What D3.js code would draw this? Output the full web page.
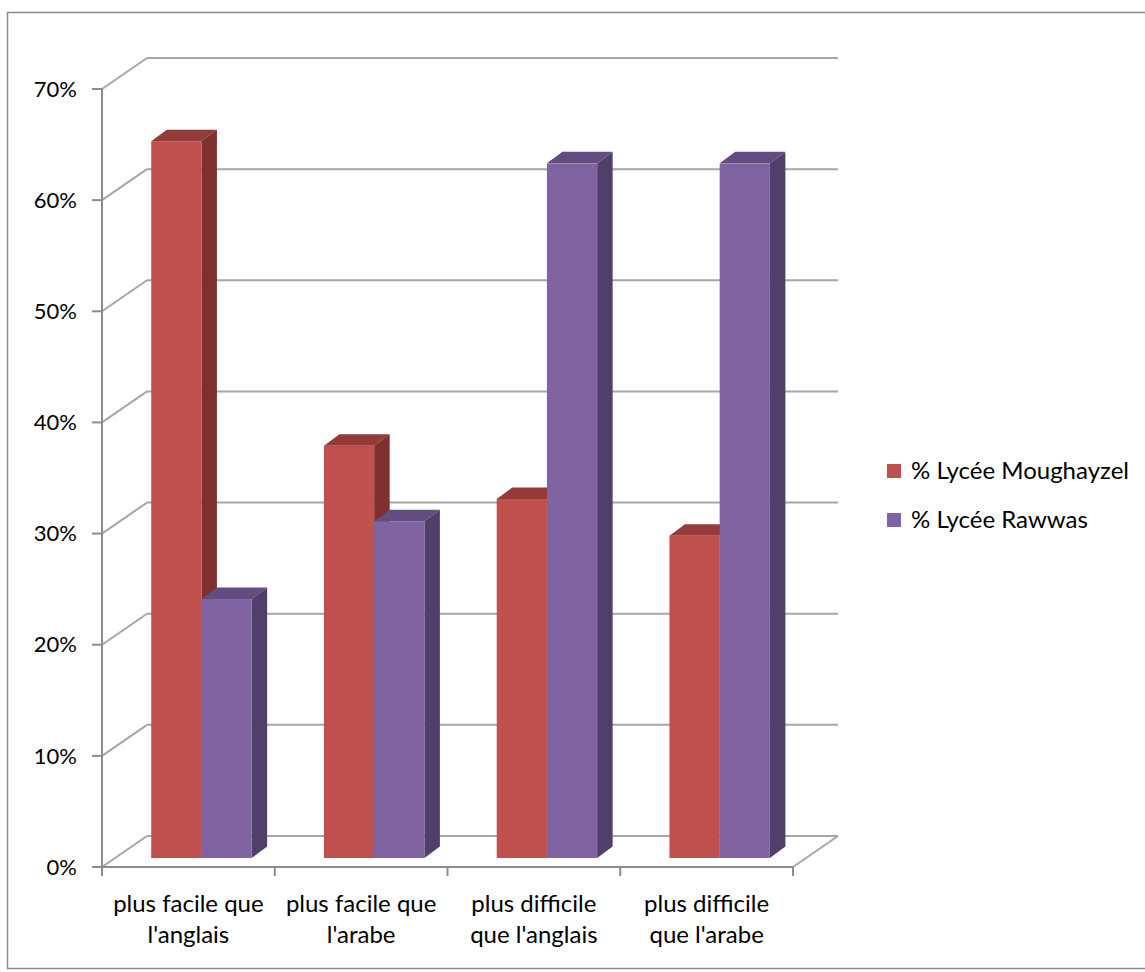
<!DOCTYPE html>
<html>
<head>
<meta charset="utf-8">
<script src="https://cdn.jsdelivr.net/npm/d3@7"></script>
<style>
  html, body { margin: 0; padding: 0; background: #fff; }
  svg { display: block; }
  text { font-family: Lato, "Liberation Sans", sans-serif; fill: #000; }
</style>
</head>
<body>
<svg id="chart" width="1145" height="972"></svg>
<script>
// Survey data: share of students per answer, per school
const categories = [
  ["plus facile que", "l'anglais"],
  ["plus facile que", "l'arabe"],
  ["plus difficile", "que l'anglais"],
  ["plus difficile", "que l'arabe"]
];
const seriesNames = ["% Lycée Moughayzel", "% Lycée Rawwas"];
const moughayzel = [0.645, 0.371, 0.323, 0.290];
const rawwas = [0.233, 0.303, 0.625, 0.625];
const yTicks = [0, 0.1, 0.2, 0.3, 0.4, 0.5, 0.6, 0.7];

const svg = d3.select("#chart");

// Chart frame
svg.append("rect")
  .attr("x", 7.5).attr("y", 12.5)
  .attr("width", 1150).attr("height", 956)
  .attr("fill", "none").attr("stroke", "#8c8c8c").attr("stroke-width", 1.5);

// 3D geometry: front plane and depth offset of the back wall
const left = 102, right = 793;
const depth = { dx: 45, dy: -31 };
const y = d3.scaleLinear().domain([0, 0.7]).range([867, 89]);
const catIds = categories.map((d, i) => i);
const x = d3.scaleBand().domain(catIds).range([left, right]);
const inner = d3.scaleBand().domain([0, 1]).range([0, x.bandwidth()]).paddingOuter(0.72).paddingInner(0);

const grid = svg.append("g").attr("stroke", "#a6a6a6").attr("stroke-width", 2).attr("fill", "none");

// back wall gridlines and side-wall diagonals
yTicks.forEach(t => {
  const yy = y(t);
  grid.append("line")
    .attr("x1", left + depth.dx).attr("y1", yy + depth.dy)
    .attr("x2", right + depth.dx).attr("y2", yy + depth.dy);
  grid.append("line")
    .attr("x1", left).attr("y1", yy)
    .attr("x2", left + depth.dx).attr("y2", yy + depth.dy);
});
// floor right edge
grid.append("line")
  .attr("x1", right).attr("y1", y(0))
  .attr("x2", right + depth.dx).attr("y2", y(0) + depth.dy);

// Axes on the front plane
const axisG = svg.append("g").attr("stroke", "#8c8c8c").attr("stroke-width", 2);
axisG.append("line").attr("x1", left).attr("y1", y(0.7)).attr("x2", left).attr("y2", y(0));
axisG.append("line").attr("x1", left).attr("y1", y(0)).attr("x2", right).attr("y2", y(0));
yTicks.forEach(t => {
  axisG.append("line").attr("x1", left - 10).attr("y1", y(t)).attr("x2", left).attr("y2", y(t));
});
catIds.concat([categories.length]).forEach(i => {
  const xx = i < categories.length ? x(i) : right;
  axisG.append("line").attr("x1", xx).attr("y1", y(0)).attr("x2", xx).attr("y2", y(0) + 9);
});

// Y tick labels
svg.append("g").selectAll("text").data(yTicks).join("text")
  .attr("x", 77).attr("y", d => y(d)).attr("dy", "0.35em")
  .attr("text-anchor", "end").attr("font-size", 22)
  .text(d => d3.format(".0%")(d));

// Category labels
const catLabels = svg.append("g").selectAll("text").data(categories).join("text")
  .attr("text-anchor", "middle").attr("font-size", 24)
  .attr("transform", (d, i) => `translate(${x(i) + x.bandwidth() / 2},0)`);
catLabels.selectAll("tspan").data(d => d).join("tspan")
  .attr("x", 0).attr("y", (d, j) => 912 + j * 31)
  .text(d => d);

// Bars: front face sits part-way into the depth
const barDepth = 0.29;
const off = { dx: depth.dx * barDepth, dy: depth.dy * barDepth };
const side = { dx: 15.5, dy: -11.5 };
const colors = [
  { front: "#c0504d", top: "#943a37", side: "#7f2f2d" },
  { front: "#8064a2", top: "#634d80", side: "#513f6b" }
];
const seriesData = [moughayzel, rawwas];

const bars = svg.append("g");
catIds.forEach(i => {
  seriesData.forEach((vals, s) => {
    const v = vals[i];
    const x0 = x(i) + inner(s) + off.dx;
    const x1 = x0 + inner.bandwidth();
    const yb = y(0) + off.dy;
    const yt = y(v) + off.dy;
    const c = colors[s];
    const g = bars.append("g");
    // top face
    g.append("path")
      .attr("d", `M${x0},${yt}L${x0 + side.dx},${yt + side.dy}L${x1 + side.dx},${yt + side.dy}L${x1},${yt}Z`)
      .attr("fill", c.top);
    // right side face
    g.append("path")
      .attr("d", `M${x1},${yt}L${x1 + side.dx},${yt + side.dy}L${x1 + side.dx},${yb + side.dy}L${x1},${yb}Z`)
      .attr("fill", c.side);
    // front face
    g.append("rect")
      .attr("x", x0).attr("y", yt)
      .attr("width", x1 - x0).attr("height", yb - yt)
      .attr("fill", c.front);
  });
});

// Legend
const legend = svg.append("g").selectAll("g").data(seriesNames).join("g")
  .attr("transform", (d, i) => `translate(887,${464 + i * 49})`);
legend.append("rect").attr("width", 14).attr("height", 14)
  .attr("fill", (d, i) => colors[i].front);
legend.append("text").attr("x", 24).attr("y", 7).attr("dy", "0.35em")
  .attr("font-size", 24).text(d => d);
</script>
</body>
</html>
